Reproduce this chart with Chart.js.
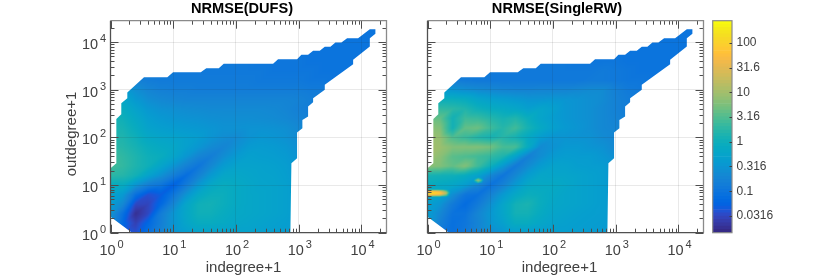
<!DOCTYPE html>
<html>
<head>
<meta charset="utf-8">
<style>
    html, body { margin: 0; padding: 0; background: #fff; overflow: hidden; }
    canvas { position: absolute; top: 0; }
</style>
<script src="https://cdn.jsdelivr.net/npm/chart.js@4"></script>
</head>
<body>
<canvas id="chart-dufs" style="left:0;width:400px;height:277px"></canvas>
<canvas id="chart-rw" style="left:400px;width:314px;height:277px"></canvas>
<canvas id="chart-bar" style="left:700px;width:130px;height:277px"></canvas>
<script>
const _ = null;

// log10(degree) of the grid nodes
const gridX = [0, .2, .4, .6, .8, 1, 1.2, 1.4, 1.6, 1.8, 2, 2.2, 2.4, 2.6, 2.8, 3, 3.2, 3.4, 3.6, 3.8, 4, 4.2, 4.4];
const gridY = [4.4, 4.2, 4, 3.8, 3.6, 3.4, 3.2, 3, 2.8, 2.6, 2.4, 2.2, 2, 1.8, 1.6, 1.4, 1.2, 1, .8, .6, .4, .2, 0];

const dufsRows = [
    [_,_,_,_,_,_,_,_,_,_,_,_,_,_,_,_,_,_,_,.09,.09,.09,.09],
    [_,_,_,_,_,_,_,_,_,_,_,_,_,_,_,_,_,_,.09,.09,.09,.09,.09],
    [_,_,_,_,_,_,_,_,_,_,_,_,_,_,_,_,_,.09,.09,.09,.09,.09,.09],
    [_,_,_,_,_,_,_,_,_,_,_,_,_,.1,.1,.1,.09,.09,.09,.09,.09,.09,_],
    [_,_,_,_,_,_,_,_,.11,.11,.11,.11,.1,.1,.1,.1,.09,.09,.09,.09,.09,.09,_],
    [_,_,_,_,.12,.12,.11,.11,.11,.11,.11,.11,.11,.1,.1,.1,.1,.09,.09,.09,.09,_,_],
    [_,.17,.15,.13,.12,.12,.12,.12,.12,.12,.12,.12,.11,.11,.11,.11,.1,.1,.09,.09,_,_,_],
    [.6,.35,.25,.18,.15,.14,.14,.13,.13,.13,.13,.13,.13,.13,.13,.13,.12,.12,.11,_,_,_,_],
    [.9,.6,.35,.24,.2,.18,.17,.17,.17,.17,.17,.17,.17,.17,.17,.16,.14,.12,_,_,_,_,_],
    [1,.8,.5,.33,.27,.25,.23,.22,.21,.21,.21,.21,.21,.2,.18,.15,.13,_,_,_,_,_,_],
    [1.2,1,.65,.42,.34,.3,.28,.27,.25,.24,.24,.24,.23,.22,.2,.17,.15,_,_,_,_,_,_],
    [1.4,1.2,.8,.5,.42,.38,.35,.33,.3,.27,.27,.28,.28,.27,.25,.2,.18,_,_,_,_,_,_],
    [1.5,1.4,1,.65,.55,.5,.45,.4,.3,.24,.22,.28,.32,.3,.27,.22,.2,_,_,_,_,_,_],
    [1.7,1.6,1.2,.85,.7,.6,.45,.32,.22,.18,.26,.36,.38,.36,.32,.25,.22,_,_,_,_,_,_],
    [2.4,1.9,1.4,1,.85,.55,.32,.18,.14,.24,.36,.45,.42,.4,.36,.28,.25,_,_,_,_,_,_],
    [2.6,2,1.4,1,.55,.3,.16,.1,.2,.38,.5,.5,.48,.45,.4,.3,.28,_,_,_,_,_,_],
    [1.8,1.6,1.1,.5,.27,.14,.075,.16,.35,.6,.6,.55,.5,.48,.42,.32,.3,_,_,_,_,_,_],
    [.8,.8,.3,.14,.1,.05,.12,.32,.65,.8,.7,.6,.52,.5,.45,.35,.3,_,_,_,_,_,_],
    [.5,.35,.08,.035,.045,.1,.28,.65,.9,.9,.7,.6,.55,.5,.45,.35,.3,_,_,_,_,_,_],
    [.4,.2,.03,.028,.06,.18,.55,1,1.1,.9,.7,.6,.55,.5,.45,.35,.3,_,_,_,_,_,_],
    [.3,.08,.017,.03,.13,.3,.6,1,1,.8,.65,.6,.55,.5,.45,.35,.3,_,_,_,_,_,_],
    [.25,.06,.025,.06,.14,.3,.55,.8,.8,.7,.6,.55,.5,.45,.42,.35,.3,_,_,_,_,_,_],
    [.2,.05,.035,.08,.16,.28,.4,.5,.5,.5,.5,.5,.45,.42,.4,.32,.3,_,_,_,_,_,_]
];

const rwRows = [
    [_,_,_,_,_,_,_,_,_,_,_,_,_,_,_,_,_,_,_,.09,.09,.09,.09],
    [_,_,_,_,_,_,_,_,_,_,_,_,_,_,_,_,_,_,.09,.09,.09,.09,.09],
    [_,_,_,_,_,_,_,_,_,_,_,_,_,_,_,_,_,.09,.09,.09,.09,.09,.09],
    [_,_,_,_,_,_,_,_,_,_,_,_,_,.1,.1,.1,.09,.09,.09,.09,.09,.09,_],
    [_,_,_,_,_,_,_,_,.11,.11,.11,.11,.1,.1,.1,.1,.09,.09,.09,.09,.09,.09,_],
    [_,_,_,_,.12,.12,.11,.11,.11,.11,.11,.11,.11,.11,.12,.11,.1,.09,.09,.09,.09,_,_],
    [_,.15,.13,.12,.11,.11,.11,.11,.11,.11,.11,.11,.11,.12,.12,.11,.1,.1,.09,.09,_,_,_],
    [.8,.45,.3,.25,.22,.2,.18,.17,.17,.18,.18,.18,.2,.22,.22,.15,.12,.11,.1,_,_,_,_],
    [1.2,.9,.9,.8,.55,.45,.4,.35,.3,.3,.32,.3,.28,.25,.22,.16,.13,.11,_,_,_,_,_],
    [2,2,1.8,1.5,1,.8,.7,.6,.45,.55,.45,.32,.28,.25,.2,.16,.13,_,_,_,_,_,_],
    [4,4,1.1,2.4,2.2,1.6,1.2,1.5,.9,.55,.4,.32,.28,.25,.2,.17,.15,_,_,_,_,_,_],
    [7,6,1.1,4,4.5,2.5,1.6,2.5,1.2,.7,.45,.35,.3,.25,.2,.18,.16,_,_,_,_,_,_],
    [9,8,3,2.2,1.5,1.2,1.6,1.2,.7,.4,.3,.3,.28,.27,.22,.18,.15,_,_,_,_,_,_],
    [10,9,6,6,6,5,2.8,2.8,.8,.22,.28,.34,.34,.3,.27,.2,.18,_,_,_,_,_,_],
    [10,7,3.5,3,2.5,2,1.4,.5,.15,.24,.36,.4,.38,.38,.32,.25,.2,_,_,_,_,_,_],
    [7,6,4,6,2.5,1,.35,.12,.22,.38,.5,.48,.42,.4,.38,.3,.25,_,_,_,_,_,_],
    [1.2,1.1,1,.8,.5,.2,.1,.2,.4,.6,.55,.55,.5,.45,.4,.3,.3,_,_,_,_,_,_],
    [.8,.7,.6,.4,.2,.09,.16,.35,.65,.7,.7,.6,.5,.45,.4,.33,.3,_,_,_,_,_,_],
    [.6,.5,.25,.1,.085,.16,.35,.65,.9,.8,.65,.55,.5,.45,.4,.33,.3,_,_,_,_,_,_],
    [.45,.3,.12,.07,.12,.25,.55,1.1,1.3,.85,.6,.55,.5,.45,.4,.33,.3,_,_,_,_,_,_],
    [.4,.2,.09,.09,.18,.32,.55,1.1,1.1,.75,.55,.5,.45,.42,.4,.33,.3,_,_,_,_,_,_],
    [.4,.15,.08,.1,.17,.3,.45,.8,.8,.6,.5,.45,.42,.4,.38,.33,.3,_,_,_,_,_,_],
    [.3,.12,.08,.11,.17,.22,.3,.4,.4,.42,.42,.42,.4,.38,.36,.32,.3,_,_,_,_,_,_]
];

// finer readings of the two small hot spots in SingleRW, they win over the grid when higher
const hotX = [0, .1, .2, .3, .4];
const hotY = [.95, .91, .875, .833, .79, .755, .71];
const hotRows = [
    [.05,.05,.05,.05,.05],
    [1,1,1,.6,.05],
    [40,40,25,4,.05],
    [150,140,90,15,.05],
    [40,40,25,4,.05],
    [1,1,1,.6,.05],
    [.05,.05,.05,.05,.05]
];
const spotX = [.71, .76, .81, .86, .91];
const spotY = [1.18, 1.14, 1.1, 1.06, 1.02];
const spotRows = [
    [.05,.05,.05,.05,.05],
    [.05,.5,2.5,.5,.05],
    [.05,2.5,9,2.5,.05],
    [.05,.5,2.5,.5,.05],
    [.05,.05,.05,.05,.05]
];

// outline of the covered region, log10 degree
const outlineX = [.343,0,0,.093,.093,.172,.172,.268,.268,.534,.906,.997,1.439,1.528,1.726,1.805,2.592,2.671,2.974,3.043,3.15,3.23,3.336,3.416,3.506,3.585,3.681,3.772,3.947,4.134,4.223,4.223,4.134,4.134,3.868,3.868,3.416,3.416,3.23,3.23,3.15,3.15,3.059,3.059,2.974,2.974,2.884,2.868];
const outlineY = [0,.336,1.353,1.458,2.389,2.487,2.718,2.824,2.941,3.265,3.265,3.37,3.37,3.454,3.454,3.544,3.544,3.643,3.643,3.733,3.733,3.817,3.817,3.901,3.901,3.992,3.992,4.084,4.084,4.273,4.273,4.174,4.084,3.908,3.628,3.538,3.103,2.998,2.824,2.739,2.647,2.437,2.368,2.193,2.101,1.563,1.458,0];

const decadeTicks = [1, 10, 100, 1000, 10000];
const colorTicks = [0.0316, 0.1, 0.316, 1, 3.16, 10, 31.6, 100];
const colorMin = 0.0145;
const colorMax = 279;
const axisMax = 10 ** 4.4;

const parula = [
    [.2081,.1663,.5292],[.2116,.1898,.5777],[.2123,.2138,.6270],[.2081,.2386,.6771],[.1959,.2645,.7279],[.1707,.2919,.7792],[.1253,.3242,.8303],[.0591,.3598,.8683],
    [.0117,.3875,.8820],[.0060,.4086,.8828],[.0165,.4266,.8786],[.0329,.4430,.8720],[.0498,.4586,.8641],[.0629,.4737,.8554],[.0723,.4887,.8467],[.0779,.5040,.8384],
    [.0793,.5200,.8312],[.0749,.5375,.8263],[.0641,.5570,.8240],[.0488,.5772,.8228],[.0343,.5966,.8199],[.0265,.6137,.8135],[.0239,.6287,.8038],[.0231,.6418,.7913],
    [.0228,.6535,.7768],[.0267,.6642,.7607],[.0384,.6743,.7436],[.0590,.6838,.7254],[.0843,.6928,.7062],[.1133,.7015,.6859],[.1453,.7098,.6646],[.1801,.7177,.6424],
    [.2178,.7250,.6193],[.2586,.7317,.5954],[.3022,.7376,.5712],[.3482,.7424,.5473],[.3953,.7459,.5244],[.4420,.7481,.5033],[.4871,.7491,.4840],[.5300,.7491,.4661],
    [.5709,.7485,.4494],[.6099,.7473,.4337],[.6473,.7456,.4188],[.6834,.7435,.4044],[.7184,.7411,.3905],[.7525,.7384,.3768],[.7858,.7356,.3633],[.8185,.7327,.3498],
    [.8507,.7299,.3360],[.8824,.7274,.3217],[.9139,.7258,.3063],[.9450,.7261,.2886],[.9739,.7314,.2666],[.9938,.7455,.2403],[.9990,.7653,.2164],[.9955,.7861,.1967],
    [.9880,.8066,.1794],[.9789,.8271,.1633],[.9697,.8481,.1475],[.9626,.8705,.1309],[.9589,.8949,.1132],[.9598,.9218,.0948],[.9661,.9514,.0755],[.9763,.9831,.0538]
];

const TEXT = '#404040';
const FONT = '"Liberation Sans", Arial, sans-serif';
const logMin = Math.log10(colorMin);
const logMax = Math.log10(colorMax);

function colorAt(logV) {
    const t = Math.min(1, Math.max(0, (logV - logMin) / (logMax - logMin))) * 63;
    const i = Math.min(62, Math.floor(t));
    const f = t - i;
    return parula[i].map((c, k) => 255 * (c + (parula[i + 1][k] - c) * f));
}

function findCell(list, v) {
    // works for rising and falling node lists
    for (let i = 0; i < list.length - 1; i++) {
        const lo = Math.min(list[i], list[i + 1]);
        const hi = Math.max(list[i], list[i + 1]);
        if (v >= lo && v <= hi) return i;
    }
    return -1;
}

function sample(rows, xs, ys, lx, ly) {
    const i = findCell(xs, lx);
    const j = findCell(ys, ly);
    if (i < 0 || j < 0) return null;
    const fx = (lx - xs[i]) / (xs[i + 1] - xs[i]);
    const fy = (ly - ys[j + 1]) / (ys[j] - ys[j + 1]);
    const raw = [rows[j + 1][i], rows[j + 1][i + 1], rows[j][i], rows[j][i + 1]];
    const known = raw.filter(v => v != null).map(Math.log10);
    if (!known.length) return null;
    const mean = known.reduce((a, b) => a + b, 0) / known.length;
    const [a, b, c, d] = raw.map(v => v == null ? mean : Math.log10(v));
    // cells are split along the rising diagonal, that is where the valley runs
    if (fx >= fy) return a + (b - a) * fx + (d - b) * fy;
    return a + (c - a) * fy + (d - c) * fx;
}

function drawSup(ctx, value, x, y) {
    ctx.fillStyle = TEXT;
    ctx.textBaseline = 'middle';
    ctx.textAlign = 'left';
    ctx.font = '14.5px ' + FONT;
    ctx.fillText('10', x, y);
    ctx.font = '11px ' + FONT;
    ctx.fillText(String(Math.round(Math.log10(value))), x + 18, y - 6);
}

const heatPlugin = {
    id: 'heat',
    beforeDatasetsDraw(chart) {
        const { ctx, chartArea: area, scales } = chart;
        const opt = chart.options.plugins.heat;
        const w = Math.round(area.right - area.left);
        const h = Math.round(area.bottom - area.top);
        const off = document.createElement('canvas');
        off.width = w;
        off.height = h;
        const offCtx = off.getContext('2d');
        const img = offCtx.createImageData(w, h);
        for (let py = 0; py < h; py++) {
            const ly = Math.log10(scales.y.getValueForPixel(area.top + py + .5));
            for (let px = 0; px < w; px++) {
                const lx = Math.log10(scales.x.getValueForPixel(area.left + px + .5));
                let v = sample(opt.rows, gridX, gridY, lx, ly);
                if (v === null) continue;
                opt.patches.forEach(p => {
                    const pv = sample(p.rows, p.xs, p.ys, lx, ly);
                    if (pv !== null && pv > v) v = pv;
                });
                const rgb = colorAt(v);
                const k = (py * w + px) * 4;
                img.data[k] = rgb[0];
                img.data[k + 1] = rgb[1];
                img.data[k + 2] = rgb[2];
                img.data[k + 3] = 255;
            }
        }
        offCtx.putImageData(img, 0, 0);
        ctx.save();
        ctx.beginPath();
        outlineX.forEach((lx, n) => {
            const px = scales.x.getPixelForValue(10 ** lx);
            const py = scales.y.getPixelForValue(10 ** outlineY[n]);
            if (n === 0) ctx.moveTo(px, py); else ctx.lineTo(px, py);
        });
        ctx.closePath();
        ctx.clip();
        ctx.drawImage(off, area.left, area.top, area.right - area.left, area.bottom - area.top);
        ctx.restore();
    },
    afterDraw(chart) {
        const { ctx, chartArea: area, scales } = chart;
        const opt = chart.options.plugins.heat;
        ctx.save();
        // minor and major ticks, all four sides
        ctx.strokeStyle = '#4d4d4d';
        ctx.lineWidth = 1;
        ctx.beginPath();
        for (let e = 0; e < 5; e++) {
            for (let m = 1; m < 10; m++) {
                const val = m * 10 ** e;
                if (val > axisMax) continue;
                const len = m === 1 ? 8 : 4;
                const px = Math.round(scales.x.getPixelForValue(val)) + .5;
                const py = Math.round(scales.y.getPixelForValue(val)) + .5;
                ctx.moveTo(px, area.bottom); ctx.lineTo(px, area.bottom - len);
                ctx.moveTo(px, area.top); ctx.lineTo(px, area.top + len);
                ctx.moveTo(area.left, py); ctx.lineTo(area.left + len, py);
                ctx.moveTo(area.right, py); ctx.lineTo(area.right - len, py);
            }
        }
        ctx.stroke();
        ctx.lineWidth = 1.3;
        ctx.strokeStyle = '#8a8a8a';
        ctx.beginPath();
        ctx.moveTo(area.left, area.top); ctx.lineTo(area.right, area.top); ctx.lineTo(area.right, area.bottom);
        ctx.stroke();
        ctx.strokeStyle = '#505050';
        ctx.beginPath();
        ctx.moveTo(area.left, area.top); ctx.lineTo(area.left, area.bottom); ctx.lineTo(area.right, area.bottom);
        ctx.stroke();

        decadeTicks.forEach(val => {
            drawSup(ctx, val, scales.x.getPixelForValue(val) - 11, 251);
            if (opt.yLabels) drawSup(ctx, val, 82, scales.y.getPixelForValue(val) + 3);
        });

        ctx.textAlign = 'center';
        ctx.textBaseline = 'middle';
        ctx.fillStyle = '#000';
        ctx.font = 'bold 14.6px ' + FONT;
        ctx.fillText(opt.titleText, area.left + opt.titleShift, 9);
        ctx.fillStyle = TEXT;
        ctx.font = '15px ' + FONT;
        ctx.fillText('indegree+1', area.left + opt.xTitleShift, 267.5);
        if (opt.yLabels) {
            ctx.translate(71.5, 134);
            ctx.rotate(-Math.PI / 2);
            ctx.fillText('outdegree+1', 0, 0);
        }
        ctx.restore();
    }
};

function buildPoints(rows) {
    const points = [];
    rows.forEach((row, j) => row.forEach((v, i) => {
        if (v != null) points.push({ x: 10 ** gridX[i], y: 10 ** gridY[j], v: v });
    }));
    return points;
}

function makePanel(id, titleText, rows, patches, left, right, yLabels, titleShift, xTitleShift) {
    return new Chart(document.querySelector(id), {
        type: 'scatter',
        data: { datasets: [{ label: titleText, data: buildPoints(rows), pointRadius: 0, pointHoverRadius: 0 }] },
        plugins: [heatPlugin],
        options: {
            responsive: false,
            animation: false,
            layout: { padding: { right: right, top: 20.7 } },
            scales: {
                x: {
                    type: 'logarithmic',
                    min: 1,
                    max: axisMax,
                    afterBuildTicks: s => { s.ticks = decadeTicks.map(v => ({ value: v })); },
                    afterFit: s => { s.height = 44.3; },
                    ticks: { callback: () => '', autoSkip: false },
                    border: { display: false },
                    grid: { color: 'rgba(38,38,38,.1)', drawTicks: false, z: 1 }
                },
                y: {
                    type: 'logarithmic',
                    min: 1,
                    max: 10 ** 4.45,
                    afterBuildTicks: s => { s.ticks = decadeTicks.map(v => ({ value: v })); },
                    afterFit: s => { s.width = left; },
                    ticks: { callback: () => '', autoSkip: false },
                    border: { display: false },
                    grid: { color: 'rgba(38,38,38,.1)', drawTicks: false, z: 1 }
                }
            },
            plugins: {
                legend: { display: false },
                tooltip: { enabled: false },
                heat: { rows: rows, patches: patches, yLabels: yLabels, titleText: titleText, titleShift: titleShift, xTitleShift: xTitleShift }
            }
        }
    });
}

document.querySelectorAll('canvas').forEach(c => {
    c.width = parseInt(c.style.width);
    c.height = parseInt(c.style.height);
});

makePanel('#chart-dufs', 'NRMSE(DUFS)', dufsRows, [], 110.5, 13.5, true, 131.5, 133);
makePanel('#chart-rw', 'NRMSE(SingleRW)', rwRows, [
    { rows: hotRows, xs: hotX, ys: hotY },
    { rows: spotRows, xs: spotX, ys: spotY }
], 27.5, 10.5, false, 129.5, 132);

// colour bar: one floating bar per colormap step
const barDatasets = parula.map((c, i) => ({
    data: [[10 ** (logMin + (logMax - logMin) * i / 64), 10 ** (logMin + (logMax - logMin) * (i + 1) / 64)]],
    backgroundColor: `rgb(${c.map(v => Math.round(v * 255)).join(',')})`,
    grouped: false,
    barPercentage: 1,
    categoryPercentage: 1
}));

new Chart(document.querySelector('#chart-bar'), {
    type: 'bar',
    data: { labels: ['NRMSE'], datasets: barDatasets },
    plugins: [{
        id: 'barFrame',
        afterDraw(chart) {
            const { ctx, chartArea: area, scales } = chart;
            ctx.save();
            ctx.strokeStyle = '#8a8a8a';
            ctx.lineWidth = 1.2;
            ctx.strokeRect(area.left, area.top, area.right - area.left, area.bottom - area.top);
            ctx.strokeStyle = '#404040';
            ctx.lineWidth = 1;
            ctx.beginPath();
            colorTicks.forEach(v => {
                const py = Math.round(scales.y.getPixelForValue(v)) + .5;
                ctx.moveTo(area.right, py);
                ctx.lineTo(area.right - 2.5, py);
            });
            ctx.stroke();
            ctx.restore();
        }
    }],
    options: {
        responsive: false,
        animation: false,
        layout: { padding: { left: 12.7, top: 20.7, bottom: 44.3 } },
        scales: {
            x: { display: false },
            y: {
                type: 'logarithmic',
                position: 'right',
                min: colorMin,
                max: colorMax,
                afterBuildTicks: s => { s.ticks = colorTicks.map(v => ({ value: v })); },
                afterFit: s => { s.width = 98; },
                ticks: {
                    callback: v => String(v),
                    autoSkip: false,
                    color: TEXT,
                    padding: 4.5,
                    font: { family: FONT, size: 12 }
                },
                border: { display: false },
                grid: { display: false, drawTicks: false }
            }
        },
        plugins: { legend: { display: false }, tooltip: { enabled: false } }
    }
});
</script>
</body>
</html>
